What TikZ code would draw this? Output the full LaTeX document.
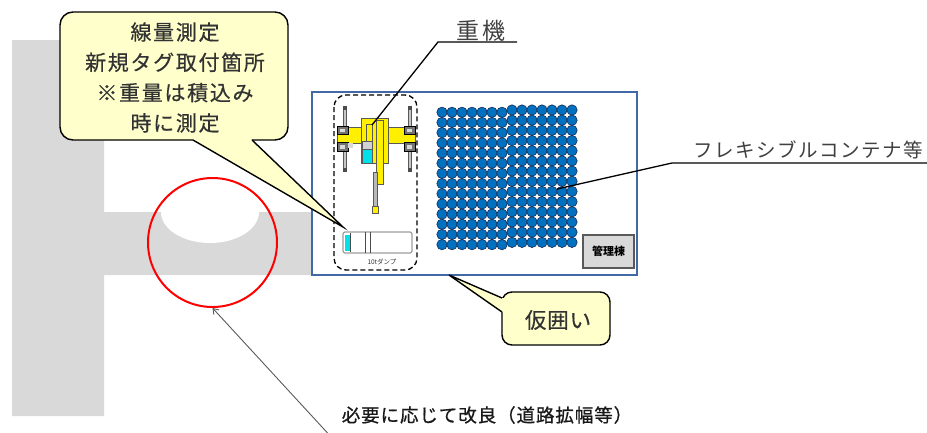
\documentclass[tikz,border=0pt]{standalone}
\usepackage{fontspec}
\setmainfont{Noto Sans CJK JP}
\usetikzlibrary{arrows.meta}
\definecolor{roadgray}{RGB}{217,217,217}
\definecolor{notefill}{RGB}{255,255,204}
\definecolor{fenceblue}{RGB}{65,105,165}
\definecolor{bagblue}{RGB}{0,112,192}
\definecolor{bagedge}{RGB}{25,45,85}
\definecolor{machyellow}{RGB}{255,240,0}
\definecolor{cabcyan}{RGB}{0,225,235}
\definecolor{labelgray}{RGB}{64,64,64}
\definecolor{notetext}{RGB}{50,50,50}
\begin{document}
\begin{tikzpicture}[x=1pt,y=-1pt,
  callout/.style={draw=black, line width=1.4pt, fill=notefill, rounded corners=13pt},
  tailline/.style={draw=black, line width=1.4pt, line join=miter},
  leader/.style={draw=black, line width=1.3pt},
  part/.style={draw=black!65, line width=0.4pt},
  bag/.style={fill=bagblue, draw=bagedge, line width=0.6pt},
  txt/.style={inner sep=0pt, outer sep=0pt}
]
\useasboundingbox (0,0) rectangle (927,432);

% access road (grey) with the white bay cut into it
\fill[roadgray] (12,40) -- (104,40) -- (104,212) -- (312,212) -- (312,275)
  -- (104,275) -- (104,416) -- (12,416) -- cycle;
\fill[white] (210,212) ellipse [x radius=49, y radius=31];

% temporary fence around the yard
\node[draw=fenceblue, line width=1.8pt, minimum width=325, minimum height=183,
  inner sep=0pt] (fence) at (474.5,183.5) {};
\coordinate (fencetip) at (449,275);

% dashed loading zone
\draw[dashed, line width=1.3pt, rounded corners=12pt, dash pattern=on 5pt off 3pt]
  (334,95) rectangle (417,270);

% excavator seen from above
\foreach \xx in {345,409.5} {
  \filldraw[part, fill=gray!45] (\xx-1.6,107) rectangle (\xx+1.6,171);
  \fill[black!70] (\xx-2,106) rectangle (\xx+2,110);
  \fill[black!70] (\xx-2,168) rectangle (\xx+2,172);
}
\filldraw[part, fill=machyellow] (337,127) rectangle (415,143);
\foreach \xx in {337,404} {
  \filldraw[draw=black, fill=black!55, line width=0.4pt] (\xx,126) rectangle ++(11,8);
  \filldraw[draw=black, fill=black!55, line width=0.4pt] (\xx,142) rectangle ++(11,9);
  \fill[gray!30] (\xx+3,128.5) rectangle ++(5,3);
  \fill[gray!30] (\xx+3,144.5) rectangle ++(5,4);
}
\filldraw[part, fill=machyellow] (361,118) rectangle (388,163);
\filldraw[part, fill=machyellow] (366,124) rectangle (372,141);
\filldraw[part, fill=gray!35] (362,141) rectangle (372,149);
\filldraw[part, fill=cabcyan] (362,149) rectangle (372,163);
\fill[gray!30] (348,143) rectangle (353,148);
\filldraw[part, fill=machyellow] (376,120) rectangle (383,184);
\filldraw[part, fill=gray!55] (373.5,172) rectangle (377.5,207);
\filldraw[part, fill=machyellow] (372.5,206) rectangle (378.5,213);
\coordinate (machine) at (372,125);

% 10 t dump truck
\filldraw[draw=black!70, fill=white, line width=0.6pt, rounded corners=1.5pt]
  (343,232) rectangle (412,253);
\fill[cabcyan] (345,234.5) rectangle (350,251);
\draw[black!70, line width=0.5pt] (350,233) -- (350,252)
  (365,232) -- (365,253) (370.5,232) -- (370.5,253);
\node[txt, font=\fontsize{6.5}{7}\selectfont, text=black!80] (dump) at (382,262) {10tダンプ};
\coordinate (truck) at (343,227);

% flexible containers, two blocks of 7 x 14
\foreach \i in {0,...,6} \foreach \j in {0,...,13} {
  \filldraw[bag] (442+10*\i, 112.3+10.18*\j) circle (5.2);
  \filldraw[bag] (512+10*\i, 110+10.18*\j) circle (5.2);
}
\coordinate (bags) at (557,189);

% site office
\node[draw=black!65, fill=roadgray, line width=1.2pt, minimum width=51,
  minimum height=33, inner sep=0pt, font=\fontsize{11}{12}\selectfont\bfseries]
  (office) at (608.5,251.5) {管理棟};

% area that may need widening
\node[draw=red, line width=2pt, circle, minimum size=129, inner sep=0pt] (spot) at (212.5,242.5) {};
\coordinate (foot) at (334,440);
\draw[black!65, line width=0.9pt, -{Straight Barb[length=5pt,width=7pt]}] (foot) -- (spot.south);
\node[txt, font=\fontsize{18.5}{20}\selectfont\addfontfeatures{LetterSpace=5,FakeBold=0.8}, text=black!90]
  (improve) at (487,415) {必要に応じて改良（道路拡幅等）};

% label: heavy machinery
\node[txt, font=\fontsize{23}{24}\selectfont\addfontfeatures{LetterSpace=10}, text=labelgray]
  (kiki) at (481,31) {重機};
\coordinate (kikiL) at (438,42);
\coordinate (kikiR) at (517,42);
\draw[leader] (kikiR) -- (kikiL) -- (machine);

% label: flexible containers
\node[txt, font=\fontsize{19.5}{21}\selectfont\addfontfeatures{LetterSpace=8}, text=labelgray]
  (flex) at (808,150) {フレキシブルコンテナ等};
\coordinate (flexL) at (672,163);
\coordinate (flexR) at (927,163);
\draw[leader] (flexR) -- (flexL) -- (bags);

% callout: measuring point
\node[callout, minimum width=228, minimum height=128, inner sep=0pt] (note) at (174,76) {};
\fill[notefill] (194,138) -- (193,140) -- (truck) -- (252,140) -- (251,138) -- cycle;
\draw[tailline] (193,140) -- (truck) -- (252,140);
\node[txt, align=center, text=notetext,
  font=\fontsize{21}{30.3}\selectfont\addfontfeatures{LetterSpace=8,FakeBold=0.4}]
  (notetext) at (175,77.5) {線量測定\\新規タグ取付箇所\\※重量は積込み\\時に測定};

% callout: temporary fence
\node[callout, rounded corners=10pt, minimum width=108, minimum height=53, inner sep=0pt]
  (fencenote) at (556,318.5) {};
\fill[notefill] (504,298) -- (502,298) -- (fencetip) -- (502,312) -- (504,312) -- cycle;
\draw[tailline] (502,298) -- (fencetip) -- (502,312);
\node[txt, text=notetext, font=\fontsize{21.5}{23}\selectfont\addfontfeatures{LetterSpace=4,FakeBold=0.4}]
  (fencetext) at (558,320) {仮囲い};
\end{tikzpicture}
\end{document}
